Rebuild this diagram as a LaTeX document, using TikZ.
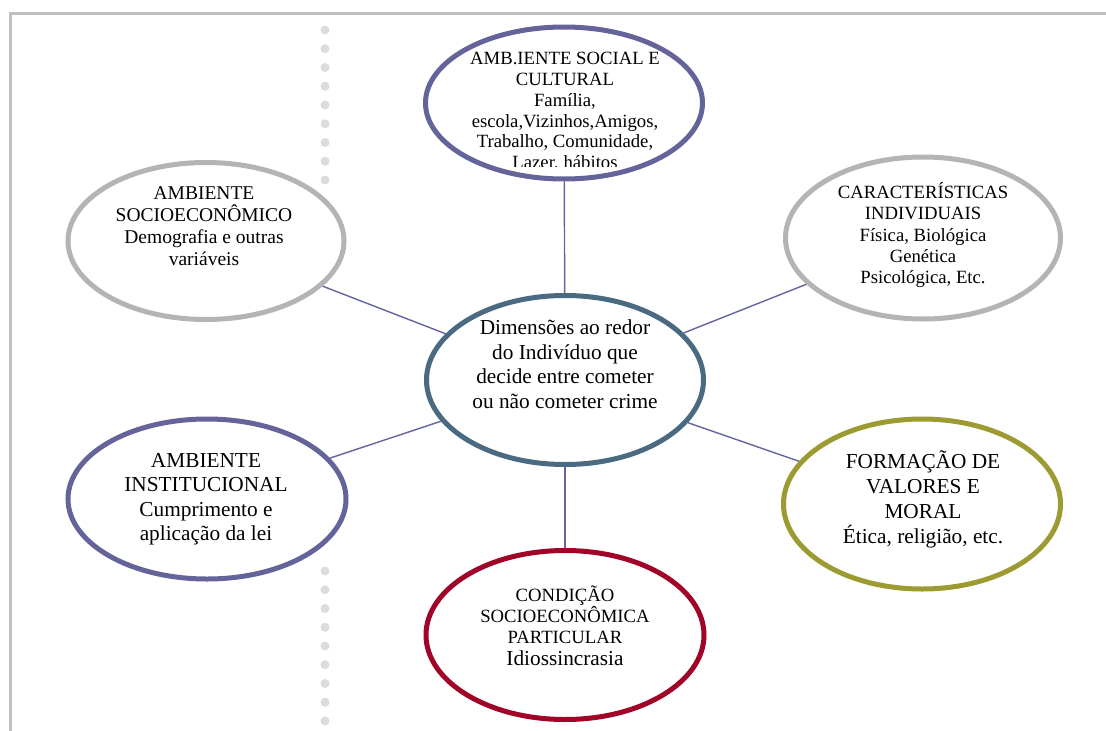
\documentclass[tikz,border=0pt]{standalone}
\usepackage{fontspec}
\setmainfont{Liberation Serif}
\usetikzlibrary{shapes}
\definecolor{ringpurple}{RGB}{100,100,155}
\definecolor{ringgray}{RGB}{180,180,180}
\definecolor{ringblue}{RGB}{73,106,128}
\definecolor{ringolive}{RGB}{155,155,50}
\definecolor{ringred}{RGB}{160,4,40}
\definecolor{spokepurple}{RGB}{100,100,160}
\definecolor{framegray}{RGB}{192,192,192}
\definecolor{dotgray}{RGB}{220,220,220}

\begin{document}
\begin{tikzpicture}[x=1pt,y=-1pt,
		ring/.style={ellipse, draw, line width=5pt, fill=white, inner sep=0pt},
		txt/.style={align=center, inner sep=0pt},
		small/.style={font=\fontsize{18.7}{20.8}\selectfont},
		big/.style={font=\fontsize{21.3}{24.5}\selectfont},
		spoke/.style={draw=spokepurple, line width=1.4pt}]
		\useasboundingbox (0,0) rectangle (1106,731);
		\draw[framegray, line width=3.5pt] (10.5,731) -- (10.5,13.5) -- (1106,13.5);
		\foreach \y in {0,...,8} {
			\fill[dotgray] (325,30+18.75*\y) circle (4.5pt);
			\fill[dotgray] (325,571+18.75*\y) circle (4.5pt);
		}
		\node[ring, draw=ringblue, minimum width=277pt, minimum height=169pt](indiv) at (565,380) {};
		\node[ring, draw=ringpurple, minimum width=277pt, minimum height=152pt](social) at (564,103) {};
		\node[ring, draw=ringgray, minimum width=276pt, minimum height=157pt](socio) at (206,241) {};
		\node[ring, draw=ringgray, minimum width=275pt, minimum height=162pt](caract) at (923,238) {};
		\node[ring, draw=ringpurple, minimum width=278pt, minimum height=160pt](instit) at (207,499) {};
		\node[ring, draw=ringolive, minimum width=277pt, minimum height=170pt](valores) at (922,504) {};
		\node[ring, draw=ringred, minimum width=278pt, minimum height=169pt](condicao) at (565,635) {};
		\draw [spoke] (indiv) -- (social);
		\draw [spoke] (indiv) -- (socio);
		\draw [spoke] (indiv) -- (caract);
		\draw [spoke] (indiv) -- (instit);
		\draw [spoke] (indiv) -- (valores);
		\draw [spoke] (indiv) -- (condicao);
		\begin{scope}
			\clip (430,40) rectangle (700,166);
			\node[txt, small](socialtxt) at (565,112) {AMB.IENTE SOCIAL E\\CULTURAL\\Família,\\escola,Vizinhos,Amigos,\\Trabalho, Comunidade,\\Lazer, hábitos};
		\end{scope}
		\node[txt, font=\fontsize{19.5}{21.8}\selectfont](sociotxt) at (204,226) {AMBIENTE\\SOCIOECONÔMICO\\Demografia e outras\\variáveis};
		\node[txt, font=\fontsize{18.7}{21.3}\selectfont](caracttxt) at (923,235) {CARACTERÍSTICAS\\INDIVIDUAIS\\Física, Biológica\\Genética\\Psicológica, Etc.};
		\node[txt, big](indivtxt) at (565,364) {Dimensões ao redor\\do Indivíduo que\\decide entre cometer\\ou não cometer crime};
		\node[txt, big](institxt) at (206,499) {AMBIENTE\\INSTITUCIONAL\\Cumprimento e\\aplicação da lei};
		\node[txt, font=\fontsize{21.3}{25}\selectfont](valorestxt) at (923,499) {FORMAÇÃO DE\\VALORES E\\MORAL\\Ética, religião, etc.};
		\node[txt, small](condicaotxt) at (565,626) {CONDIÇÃO\\SOCIOECONÔMICA\\PARTICULAR\\[2pt]{\fontsize{21.3}{24.5}\selectfont Idiossincrasia}};
	\end{tikzpicture}
\end{document}
